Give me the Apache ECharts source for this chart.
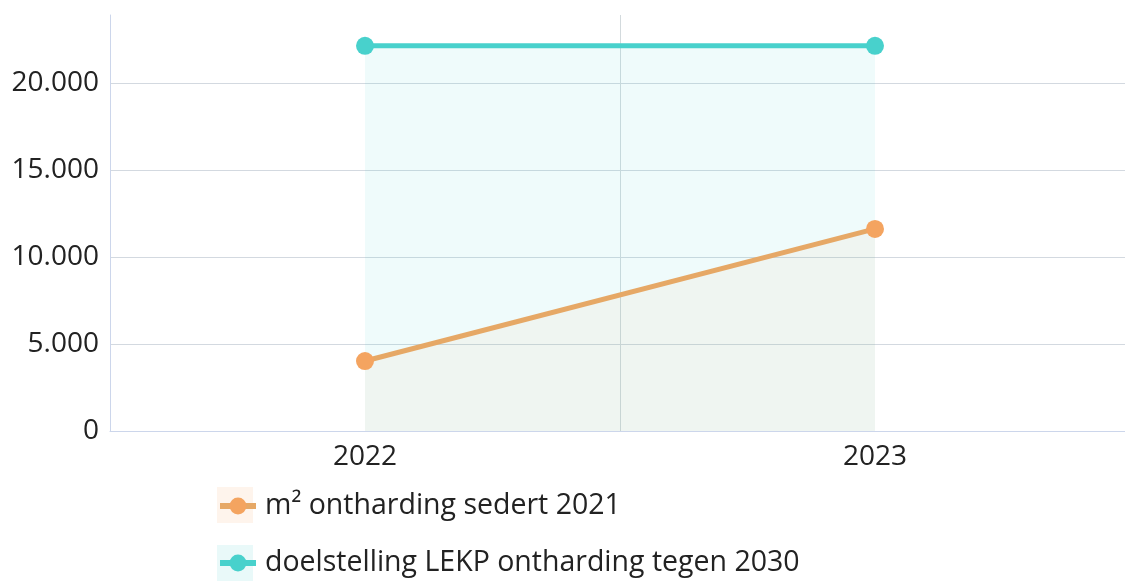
<!DOCTYPE html>
<html>
<head>
<meta charset="utf-8">
<script src="https://cdn.jsdelivr.net/npm/echarts@6/dist/echarts.min.js"></script>
<style>
html,body{margin:0;padding:0;background:#fff;}
#main{width:1125px;height:581px;}
</style>
</head>
<body>
<div id="main"></div>
<script>
const categories = ['2022', '2023'];
const ontharding = [4020, 11610];
const doelstelling = [22130, 22130];
const seriesNames = ['m² ontharding sedert 2021', 'doelstelling LEKP ontharding tegen 2030'];
const yTicks = [0, 5000, 10000, 15000, 20000];

const FONT = '"Open Sans", "Noto Sans", sans-serif';
const ORANGE = '#f4a460';
const TEAL = '#48d1cc';

function fmt(v) {
  return String(Math.round(v)).replace(/\B(?=(\d{3})+(?!\d))/g, '.');
}

const chart = echarts.init(document.getElementById('main'), null, {renderer: 'canvas'});
chart.setOption({
  animation: false,
  backgroundColor: '#ffffff',
  grid: {left: 110, width: 1020, top: 15, bottom: 150, containLabel: false, outerBoundsMode: 'none'},
  legend: {
    orient: 'vertical',
    left: 217,
    top: 488,
    padding: 0,
    itemWidth: 36,
    itemHeight: 21,
    itemGap: 21,
    lineStyle: {width: 6},
    textStyle: {fontFamily: FONT, fontSize: 28.5, lineHeight: 36, color: '#222', padding: [0, 0, 0, 4]},
    data: seriesNames
  },
  graphic: [
    {type: 'rect', z: 0, shape: {x: 217, y: 487, width: 36, height: 36}, style: {fill: 'rgba(244,164,96,0.12)'}},
    {type: 'rect', z: 0, shape: {x: 217, y: 545, width: 36, height: 36}, style: {fill: 'rgba(72,209,204,0.12)'}}
  ],
  xAxis: {
    type: 'category',
    data: categories,
    boundaryGap: true,
    axisLine: {show: true, lineStyle: {color: '#ccd6eb', width: 1}},
    axisTick: {show: false},
    axisLabel: {fontFamily: FONT, fontSize: 28, color: '#222', margin: 12},
    splitLine: {show: true, lineStyle: {color: '#d3dadd', width: 1}}
  },
  yAxis: {
    type: 'value',
    min: 0,
    max: 23900,
    interval: 5000,
    axisLine: {show: true, lineStyle: {color: '#ccd6eb', width: 1}},
    axisTick: {show: false},
    axisLabel: {
      fontFamily: FONT, fontSize: 28, color: '#222', margin: 11,
      showMaxLabel: false,
      formatter: function (v) { return yTicks.indexOf(v) >= 0 ? fmt(v) : ''; }
    },
    splitLine: {show: true, lineStyle: {color: ['#d3d9e0', '#d3d9e0', '#d3d9e0', '#d3d9e0', '#d3d9e0', 'rgba(0,0,0,0)'], width: 1}}
  },
  series: [
    {
      name: seriesNames[1],
      type: 'line',
      data: doelstelling,
      symbol: 'circle',
      symbolSize: 18,
      itemStyle: {color: TEAL},
      lineStyle: {color: TEAL, width: 5},
      areaStyle: {color: 'rgba(72,209,204,0.12)'},
      z: 2
    },
    {
      name: seriesNames[0],
      type: 'line',
      data: ontharding,
      symbol: 'circle',
      symbolSize: 18,
      itemStyle: {color: ORANGE},
      lineStyle: {color: '#e6a866', width: 5},
      areaStyle: {color: 'rgba(244,164,96,0.09)'},
      z: 3
    }
  ]
});
</script>
</body>
</html>
